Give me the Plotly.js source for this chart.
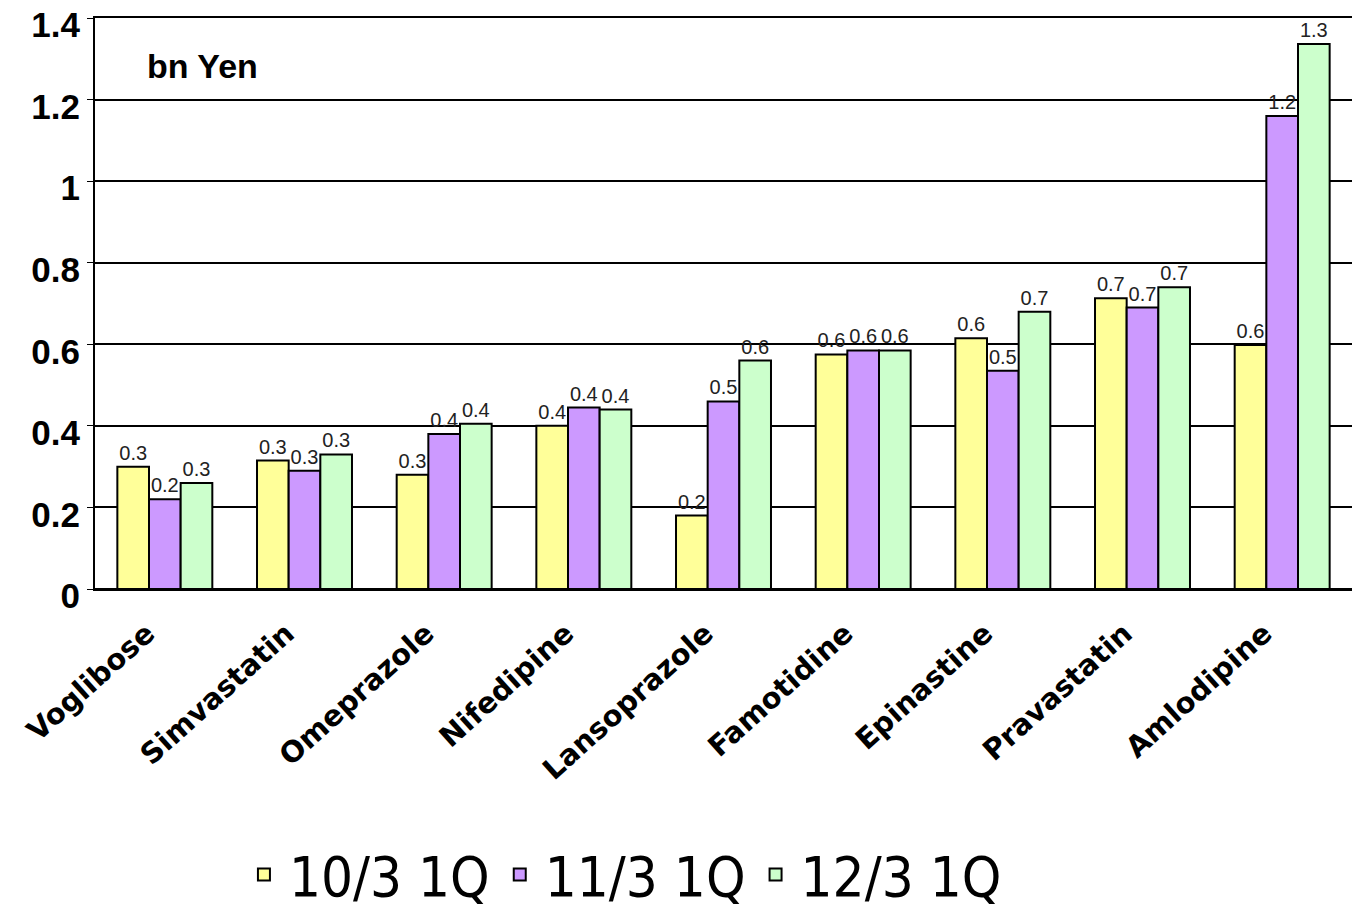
<!DOCTYPE html>
<html>
<head>
<meta charset="utf-8">
<script src="https://cdn.plot.ly/plotly-3.0.1.min.js"></script>
<style>html,body{margin:0;padding:0;background:#fff;}#chart{width:1352px;height:918px;}</style>
</head>
<body>
<div id="chart"></div>
<script>
const categories = ["Voglibose","Simvastatin","Omeprazole","Nifedipine","Lansoprazole","Famotidine","Epinastine","Pravastatin","Amlodipine"];
const seriesNames = ["10/3 1Q","11/3 1Q","12/3 1Q"];
const s1003 = [0.30, 0.315, 0.28, 0.40, 0.18, 0.575, 0.615, 0.713, 0.598];
const s1103 = [0.22, 0.29, 0.38, 0.445, 0.46, 0.585, 0.535, 0.69, 1.16];
const s1203 = [0.26, 0.33, 0.405, 0.44, 0.56, 0.585, 0.68, 0.74, 1.336];
const yTicks = [0, 0.2, 0.4, 0.6, 0.8, 1, 1.2, 1.4];
const yTickText = ["0","0.2","0.4","0.6","0.8","1","1.2","1.4"];
const colors = ["#FFFF99","#CC99FF","#CCFFCC"];

const allSeries = [s1003, s1103, s1203];
const traces = allSeries.map((vals, i) => ({
  type: "bar",
  name: seriesNames[i],
  x: categories,
  y: vals,
  marker: {color: colors[i], line: {color: "#000", width: 2}},
  text: vals.map(v => v.toFixed(1)),
  textposition: "outside",
  cliponaxis: false,
  textfont: {family: "Liberation Sans, Arial", size: 20, color: "#222"},
  hoverinfo: "x+y"
}));

const layout = {
  width: 1352, height: 918,
  margin: {l: 95, r: 0, t: 18, b: 305},
  paper_bgcolor: "#fff", plot_bgcolor: "#fff",
  barmode: "group", bargap: 0.32, bargroupgap: 0,
  showlegend: true,
  legend: {orientation: "h", x: 0.42, xanchor: "center", y: -0.50, yanchor: "middle",
    font: {family: "DejaVu Sans Condensed, Noto Sans, sans-serif", size: 56, color: "#000"}, itemwidth: 40,
    traceorder: "normal"},
  xaxis: {
    tickangle: -42, showline: true, linecolor: "#000", linewidth: 2, mirror: true,
    tickfont: {family: "DejaVu Sans, sans-serif", size: 29, color: "#000", weight: "bold"},
    ticks: "", showgrid: false, automargin: false,
    ticklabelshift: -18, ticklabelstandoff: 14
  },
  yaxis: {
    range: [0, 1.4], tickvals: yTicks, ticktext: yTickText,
    showgrid: true, gridcolor: "#000", gridwidth: 2,
    showline: true, linecolor: "#000", linewidth: 2, mirror: true,
    zeroline: true, zerolinecolor: "#000", zerolinewidth: 2,
    ticks: "outside", ticklen: 6, tickcolor: "#000",
    ticklabeloverflow: "allow", ticklabelshift: 7,
    tickfont: {family: "Liberation Sans, Arial", size: 35, color: "#000", weight: "bold"},
    automargin: false
  },
  annotations: [{
    text: "bn Yen", xref: "paper", yref: "paper", x: 0.04, y: 0.916,
    xanchor: "left", yanchor: "middle", showarrow: false,
    font: {family: "Liberation Sans, Arial", size: 34, color: "#000", weight: "bold"}
  }]
};

Plotly.newPlot("chart", traces, layout, {displayModeBar: false, staticPlot: true});
</script>
</body>
</html>
